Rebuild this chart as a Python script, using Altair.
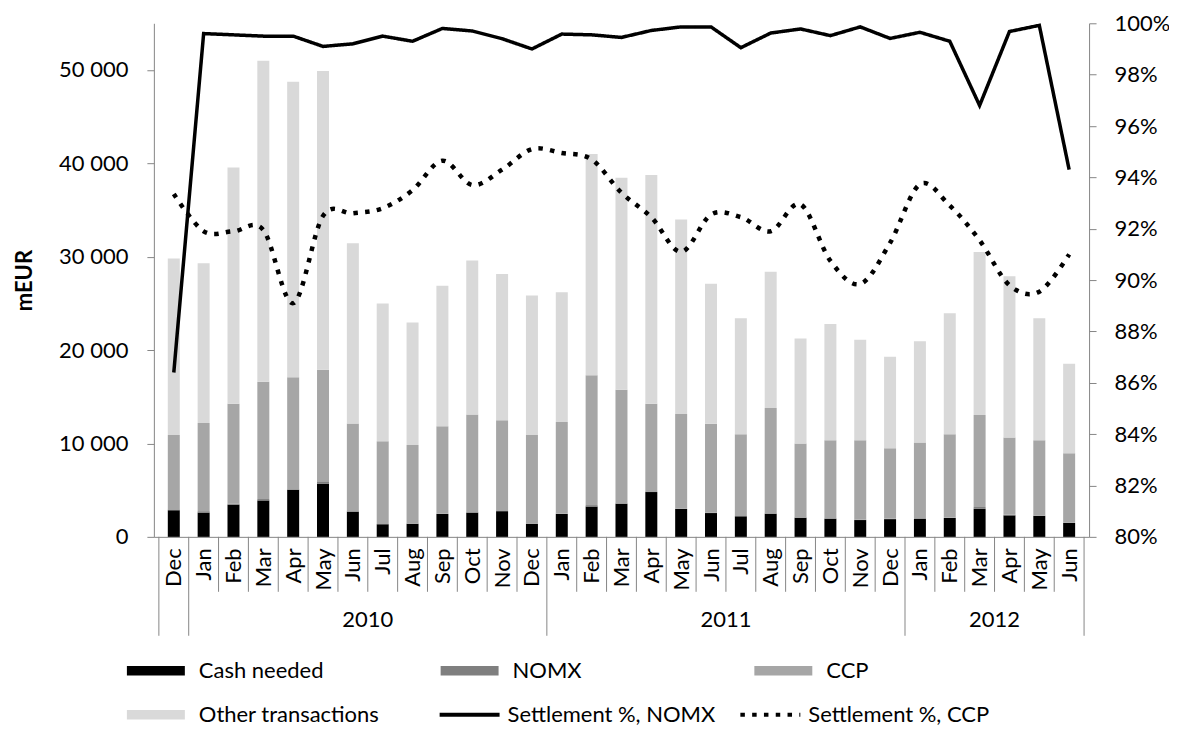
import json
import altair as alt
import pandas as pd

# ---------------- data ----------------
months = ["Dec",
          "Jan", "Feb", "Mar", "Apr", "May", "Jun", "Jul", "Aug", "Sep", "Oct", "Nov", "Dec",
          "Jan", "Feb", "Mar", "Apr", "May", "Jun", "Jul", "Aug", "Sep", "Oct", "Nov", "Dec",
          "Jan", "Feb", "Mar", "Apr", "May", "Jun"]
years = [""] + ["2010"] * 12 + ["2011"] * 12 + ["2012"] * 6

bar_series = ["Cash needed", "NOMX", "CCP", "Other transactions"]
bar_colors = ["#000000", "#7f7f7f", "#a6a6a6", "#d9d9d9"]

cash = [2850, 2600, 3450, 3900, 5050, 5700, 2700, 1350, 1400, 2450, 2600, 2750, 1400,
        2450, 3250, 3550, 4800, 3000, 2550, 2200, 2480, 2050, 1950, 1800, 1900,
        1950, 2030, 3000, 2300, 2250, 1500]
nomx = [100, 150, 100, 150, 50, 250, 50, 30, 30, 30, 30, 30, 30,
        50, 150, 50, 80, 30, 30, 30, 40, 30, 30, 30, 30,
        30, 30, 200, 60, 30, 30]
ccp = [7950, 9450, 10700, 12550, 12000, 11950, 9400, 8870, 8420, 9370, 10470, 9720, 9470,
       9800, 13900, 12150, 9370, 10120, 9520, 8770, 11280, 7920, 8370, 8520, 7570,
       8120, 8940, 9850, 8290, 8070, 7420]
other = [18900, 17100, 25300, 34400, 31650, 32000, 19300, 14750, 13100, 15050, 16500, 15650, 14950,
         13900, 23700, 22700, 24500, 20850, 15000, 12400, 14600, 11250, 12450, 10750, 9800,
         10850, 12950, 17450, 17250, 13050, 9600]

line_series = ["Settlement %, NOMX", "Settlement %, CCP"]
settle_nomx = [86.4, 99.6, 99.55, 99.5, 99.5, 99.1, 99.2, 99.5, 99.3, 99.8, 99.7, 99.4, 99.0,
               99.58, 99.55, 99.45, 99.72, 99.86, 99.86, 99.05, 99.62, 99.78, 99.52, 99.86, 99.41,
               99.65, 99.3, 96.8, 99.68, 99.92, 94.3]
settle_ccp = [93.35, 91.9, 91.9, 91.95, 89.1, 92.5, 92.6, 92.8, 93.5, 94.65, 93.7, 94.3, 95.1,
              94.95, 94.7, 93.4, 92.45, 91.1, 92.55, 92.45, 91.9, 92.95, 90.75, 89.85, 91.45,
              93.73, 92.9, 91.55, 89.8, 89.55, 91.0]

left_ticks = [0, 10000, 20000, 30000, 40000, 50000]
right_ticks = [80, 82, 84, 86, 88, 90, 92, 94, 96, 98, 100]

# ---------------- tables ----------------
n = len(months)
idx = list(range(n))
bar_keys = list(range(len(bar_series)))

bar_rows = []
for i in idx:
    for k, vals in enumerate([cash, nomx, ccp, other]):
        bar_rows.append({"i": i, "k": k, "series": bar_series[k], "v": vals[i]})
bars_df = pd.DataFrame(bar_rows)

nomx_df = pd.DataFrame({"i": idx, "p": settle_nomx, "s": line_series[0]})
ccp_df = pd.DataFrame({"i": idx, "p": settle_ccp, "s": line_series[1]})

minor_b, major_b = [], []
for b in range(n + 1):
    is_major = b == 0 or b == n or years[b] != years[b - 1]
    (major_b if is_major else minor_b).append({"i": b - 0.5})
minor_df = pd.DataFrame(minor_b)
major_df = pd.DataFrame(major_b)

year_rows = []
for y in dict.fromkeys(years):
    if not y:
        continue
    pos = [i for i in idx if years[i] == y]
    year_rows.append({"year": y, "i": (pos[0] + pos[-1]) / 2})
year_df = pd.DataFrame(year_rows)

# ---------------- styling ----------------
FONT = "Lato"
FS = 22
GRAY = "#868686"

xscale = alt.Scale(domain=[-0.5, n - 0.5], nice=False, zero=False)
month_expr = json.dumps(months) + "[datum.value]"
x_axis = alt.Axis(values=idx, labelExpr=month_expr, labelAngle=270,
                  labelAlign="right", labelBaseline="middle", labelPadding=11,
                  ticks=False, grid=False, domainColor=GRAY, title=None,
                  labelOverlap=False, labelFlush=False, labelBound=False)
X = alt.X("i:Q", scale=xscale, axis=x_axis)

bars = alt.Chart(bars_df).mark_bar(size=12).encode(
    x=X,
    y=alt.Y("v:Q", stack="zero",
            scale=alt.Scale(domain=[0, 55000], nice=False),
            axis=alt.Axis(values=left_ticks,
                          labelExpr="replace(format(datum.value, ','), ',', ' ')",
                          grid=False, tickSize=7, tickColor=GRAY, domainColor=GRAY,
                          labelPadding=19, title="mEUR", titleFontWeight="bold",
                          titlePadding=22, titleFont=FONT, titleFontSize=FS,
                          titleColor="#000000")),
    color=alt.Color("k:N",
                    scale=alt.Scale(domain=bar_keys, range=bar_colors),
                    legend=alt.Legend(orient="none", legendX=-27, legendY=637,
                                      direction="horizontal",
                                      values=bar_keys,
                                      labelExpr=json.dumps(bar_series) + "[datum.value]",
                                      columns=3, gridAlign="all", columnPadding=61,
                                      rowPadding=22, padding=0, title=None,
                                      symbolType="M-1.1,-0.47H4.7V0.47H-1.1Z",
                                      symbolSize=400, symbolStrokeWidth=0,
                                      labelOffset=50, labelLimit=400,
                                      labelFont=FONT, labelFontSize=FS,
                                      labelColor="#000000")),
    order=alt.Order("k:Q"),
    tooltip=["series:N", "v:Q"],
)

minor_rules = alt.Chart(minor_df).mark_rule(color=GRAY, strokeWidth=1).encode(
    x=X, y=alt.value(514), y2=alt.value(569),
)
major_rules = alt.Chart(major_df).mark_rule(color=GRAY, strokeWidth=1).encode(
    x=X, y=alt.value(514), y2=alt.value(613),
)
year_text = alt.Chart(year_df).mark_text(font=FONT, fontSize=FS, color="#000000",
                                         align="center", baseline="middle").encode(
    x=X, y=alt.value(597), text="year:N",
)

dash_scale = alt.Scale(domain=line_series, range=[[1, 0], [4.5, 7.3]])
line_legend = alt.Legend(orient="none", legendX=286, legendY=681, columns=2,
                         direction="horizontal",
                         values=line_series,
                         gridAlign="all", columnPadding=17, padding=0, title=None,
                         symbolType="M-1.375,0H6.125", symbolSize=256,
                         symbolStrokeWidth=4, symbolStrokeColor="#000000",
                         labelOffset=46, labelLimit=400, labelFont=FONT,
                         labelFontSize=FS, labelColor="#000000")
yright = alt.Scale(domain=[80, 100], nice=False, zero=False)
right_axis = alt.Axis(orient="right", values=right_ticks,
                      labelExpr="datum.value + '%'", grid=False, tickSize=7,
                      tickColor=GRAY, domainColor=GRAY, labelPadding=18,
                      title=None)
Y2 = alt.Y("p:Q", scale=yright, axis=right_axis)

line_nomx = alt.Chart(nomx_df).mark_line(color="#000000", strokeWidth=3.5).encode(
    x=X, y=Y2,
    strokeDash=alt.StrokeDash("s:N", scale=dash_scale, legend=line_legend),
)
line_ccp = alt.Chart(ccp_df).mark_line(color="#000000", strokeWidth=4.5,
                                       interpolate="cardinal").encode(
    x=X, y=Y2,
    strokeDash=alt.StrokeDash("s:N", scale=dash_scale, legend=line_legend),
)
lines = alt.layer(line_nomx, line_ccp)

chart = alt.layer(bars, minor_rules, major_rules, year_text, lines).resolve_scale(
    y="independent"
).properties(
    width=936, height=514,
    padding={"left": 146, "top": 15, "right": 80, "bottom": 190},
    autosize=alt.AutoSizeParams(type="none"),
).configure_view(stroke=None).configure_axis(
    labelFont=FONT, labelFontSize=FS, labelColor="#000000"
)

chart.save("out.html", embed_options={"renderer": "svg", "actions": False})
